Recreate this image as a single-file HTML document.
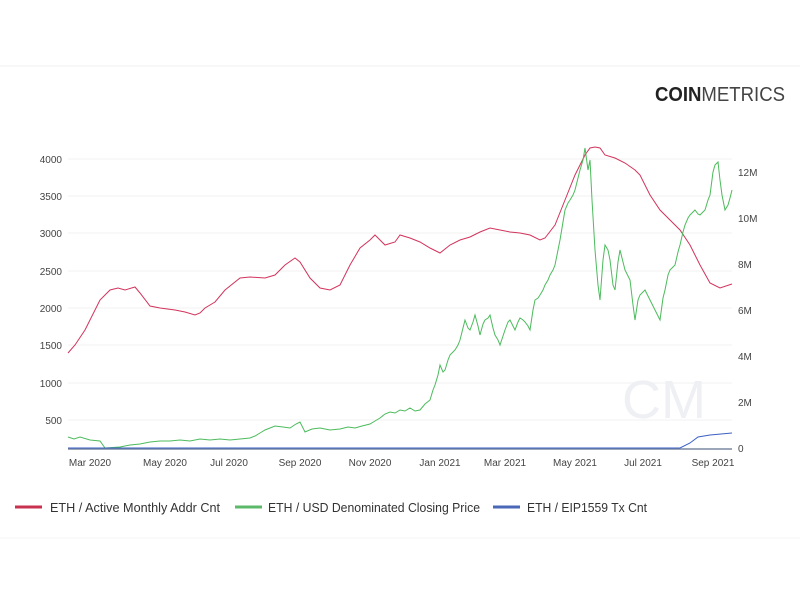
<!DOCTYPE html>
<html><head><meta charset="utf-8"><style>
html,body{margin:0;padding:0;background:#fff;width:800px;height:600px;overflow:hidden;font-family:"Liberation Sans",sans-serif}
</style></head><body>
<svg width="800" height="600" viewBox="0 0 800 600" xmlns="http://www.w3.org/2000/svg" font-family="Liberation Sans, sans-serif">
<line x1="0" y1="66" x2="800" y2="66" stroke="#f2f2f2"/>
<line x1="0" y1="538" x2="800" y2="538" stroke="#f4f4f4"/>
<text x="655" y="101" font-size="20" fill="#222" textLength="130" lengthAdjust="spacingAndGlyphs"><tspan font-weight="bold">COIN</tspan><tspan font-weight="normal" fill="#444">METRICS</tspan></text>
<g stroke="#f0f0f0" stroke-width="1">
<line x1="68" y1="159" x2="732" y2="159"/><line x1="68" y1="196" x2="732" y2="196"/><line x1="68" y1="233" x2="732" y2="233"/><line x1="68" y1="271" x2="732" y2="271"/><line x1="68" y1="308" x2="732" y2="308"/><line x1="68" y1="345" x2="732" y2="345"/><line x1="68" y1="383" x2="732" y2="383"/><line x1="68" y1="420" x2="732" y2="420"/>
</g>
<g font-size="10" fill="#444" text-anchor="end">
<text x="62" y="163">4000</text><text x="62" y="200">3500</text><text x="62" y="237">3000</text><text x="62" y="275">2500</text><text x="62" y="312">2000</text><text x="62" y="349">1500</text><text x="62" y="387">1000</text><text x="62" y="424">500</text>
</g>
<g font-size="10" fill="#444">
<text x="738" y="176">12M</text><text x="738" y="222">10M</text><text x="738" y="268">8M</text><text x="738" y="314">6M</text><text x="738" y="360">4M</text><text x="738" y="406">2M</text><text x="738" y="452">0</text>
</g>
<g font-size="10" fill="#444" text-anchor="middle">
<text x="90" y="466">Mar 2020</text><text x="165" y="466">May 2020</text><text x="229" y="466">Jul 2020</text><text x="300" y="466">Sep 2020</text><text x="370" y="466">Nov 2020</text><text x="440" y="466">Jan 2021</text><text x="505" y="466">Mar 2021</text><text x="575" y="466">May 2021</text><text x="643" y="466">Jul 2021</text><text x="713" y="466">Sep 2021</text>
</g>
<text x="622" y="418" font-size="54" fill="#eef0f4">CM</text>
<line x1="68" y1="449" x2="732" y2="449" stroke="#7a8aa0" stroke-width="1.5"/>
<polyline fill="none" stroke="#d2335c" stroke-width="1" points="68,353 75,345 85,330 100,300 110,290 118,288 125,290 135,287 140,293 150,306 160,308 175,310 185,312 195,315 200,313 205,308 215,302 225,290 240,278 250,277 265,278 275,275 285,265 295,258 300,262 310,278 320,288 330,290 340,285 350,265 360,248 370,240 375,235 380,240 385,245 395,242 400,235 410,238 420,242 430,248 440,253 450,245 460,240 470,237 480,232 490,228 500,230 510,232 520,233 530,235 540,240 545,238 555,225 565,200 575,175 585,155 590,148 595,147 600,148 605,155 615,158 625,163 635,170 640,175 650,195 660,210 670,220 680,230 690,245 700,265 710,283 720,288 732,284"/>
<polyline fill="none" stroke="#4cbb5c" stroke-width="1" points="68,437 74,439 80,437 90,440 100,441 105,448 120,447 130,445 140,444 150,442 160,441 170,441 180,440 190,441 200,439 210,440 220,439 230,440 240,439 250,438 255,436 260,433 265,430 270,428 275,426 283,427 290,428 296,424 300,422 305,432 312,429 320,428 330,430 340,429 348,427 355,428 362,426 370,424 375,421 380,418 385,414 390,412 395,413 400,410 405,411 410,408 415,411 420,410 425,404 430,400 433,390 435,385 438,375 440,365 443,372 445,370 448,360 450,355 453,352 455,350 458,345 460,340 463,328 465,320 468,328 470,330 473,322 475,315 478,326 480,335 483,324 485,320 488,318 490,315 493,328 495,335 498,340 500,345 503,336 505,330 508,322 510,320 513,326 515,330 518,322 520,318 523,320 525,322 528,326 530,330 533,310 535,300 538,298 540,295 543,290 545,285 548,280 550,275 553,270 555,265 558,250 560,240 563,222 565,210 568,203 570,200 573,195 575,190 578,178 580,170 583,160 585,148 588,170 590,160 592,200 595,250 598,285 600,300 603,260 605,245 608,250 610,260 613,285 615,290 618,262 620,250 623,262 625,270 628,276 630,280 633,305 635,320 638,300 640,295 643,292 645,290 648,296 650,300 653,306 655,310 658,316 660,320 663,298 665,290 668,275 670,270 673,267 675,265 678,252 680,245 683,232 685,225 688,218 690,215 693,212 695,210 698,214 700,215 703,212 705,210 708,200 710,195 713,172 715,165 718,162 720,180 722,195 725,210 728,205 730,198 732,190"/>
<polyline fill="none" stroke="#3b5fc4" stroke-width="1" points="68,448 680,448 690,443 698,437 710,435 732,433"/>
<g font-size="13" fill="#333">
<line x1="15" y1="507" x2="42" y2="507" stroke="#c8324f" stroke-width="3"/>
<text x="50" y="512" textLength="170" lengthAdjust="spacingAndGlyphs">ETH / Active Monthly Addr Cnt</text>
<line x1="235" y1="507" x2="262" y2="507" stroke="#5cb96a" stroke-width="3"/>
<text x="268" y="512" textLength="212" lengthAdjust="spacingAndGlyphs">ETH / USD Denominated Closing Price</text>
<line x1="493" y1="507" x2="520" y2="507" stroke="#4a67b8" stroke-width="3"/>
<text x="527" y="512" textLength="120" lengthAdjust="spacingAndGlyphs">ETH / EIP1559 Tx Cnt</text>
</g>
</svg>
</body></html>
